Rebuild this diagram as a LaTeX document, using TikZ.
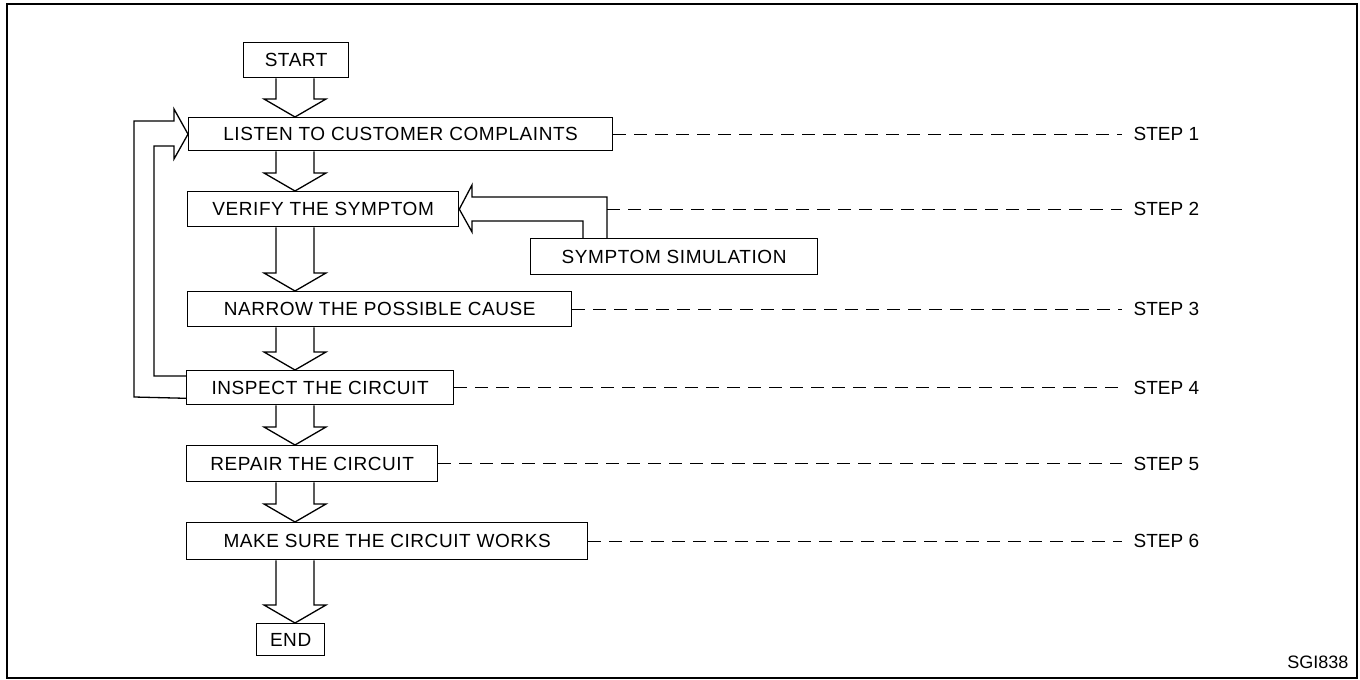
\documentclass[tikz,border=0pt]{standalone}
\usepackage{fontspec}
\setmainfont{Liberation Sans}
\newfontfamily\boxfont{Liberation Sans}[LetterSpace=3]
\usetikzlibrary{calc}
\newcommand{\blockarrow}[2]{%
  \draw let \p1=(col |- #1.south), \p2=(col |- #2.north) in
    (\x1-19pt,\y1) -- (\x1-19pt,\y2+18pt) -- (\x1-31pt,\y2+18pt) -- (\x2,\y2)
    -- (\x1+31pt,\y2+18pt) -- (\x1+19pt,\y2+18pt) -- (\x1+19pt,\y1);}
\begin{document}
\begin{tikzpicture}[x=1pt,y=-1pt,line width=1.3pt,line join=miter,
  box/.style={draw,inner sep=0pt,anchor=north west,font=\boxfont\fontsize{19}{22}\selectfont},
  lbl/.style={inner sep=0pt,anchor=west,font=\fontsize{19}{22}\selectfont},
  leader/.style={dash pattern=on 13pt off 8pt,line width=1.1pt,shorten >=11pt}]
\useasboundingbox (0,0) rectangle (1360,680);
\draw (7,4) rectangle (1357,678);
\coordinate (col) at (295,0);
\coordinate (lblx) at (1133,0);
% boxes
\node[box,minimum width=105pt,minimum height=35pt] (start) at (243,42) {START};
\node[box,minimum width=424pt,minimum height=33pt] (listen) at (188,117) {LISTEN TO CUSTOMER COMPLAINTS};
\node[box,minimum width=271pt,minimum height=35pt] (verify) at (187,191) {VERIFY THE SYMPTOM};
\node[box,minimum width=287pt,minimum height=36pt] (sim) at (530,238) {SYMPTOM SIMULATION};
\node[box,minimum width=384pt,minimum height=35pt] (narrow) at (187,291) {NARROW THE POSSIBLE CAUSE};
\node[box,minimum width=267pt,minimum height=34pt] (inspect) at (186,370) {INSPECT THE CIRCUIT};
\node[box,minimum width=251pt,minimum height=36pt] (repair) at (186,445) {REPAIR THE CIRCUIT};
\node[box,minimum width=401pt,minimum height=37pt] (make) at (186,522) {MAKE SURE THE CIRCUIT WORKS};
\node[box,minimum width=68pt,minimum height=32pt] (end) at (256,623) {END};
% block arrows
\blockarrow{start}{listen}
\blockarrow{listen}{verify}
\blockarrow{verify}{narrow}
\blockarrow{narrow}{inspect}
\blockarrow{inspect}{repair}
\blockarrow{repair}{make}
\blockarrow{make}{end}
% feedback arrow from INSPECT to LISTEN
\draw ($(inspect.south west)+(0,-7)$) -- (134,397) -- (134,121) -- (174,121) -- (174,109)
  -- (listen.west) -- (174,159) -- (174,146) -- (154,146) -- (154,376) -- ($(inspect.north west)+(0,6)$);
% symptom simulation arrow into VERIFY
\coordinate (simR) at ($(sim.north west)+(77,0)$);
\draw (simR) -- (607,197) -- (472,197) -- (472,185) -- (verify.east) -- (472,232)
  -- (472,221) -- (583,221) -- ($(sim.north west)+(53,0)$);
\coordinate (simMid) at (607,208);
% step labels
\node[lbl] (s1) at (lblx |- listen.east) {STEP 1};
\node[lbl] (s2) at (lblx |- verify.east) {STEP 2};
\node[lbl] (s3) at (lblx |- narrow.east) {STEP 3};
\node[lbl] (s4) at (lblx |- inspect.east) {STEP 4};
\node[lbl] (s5) at (lblx |- repair.east) {STEP 5};
\node[lbl] (s6) at (lblx |- make.east) {STEP 6};
\draw[leader] (listen.east) -- (s1.west);
\draw[leader] (simMid |- verify.east) -- (s2.west);
\draw[leader] (narrow.east) -- (s3.west);
\draw[leader] (inspect.east) -- (s4.west);
\draw[leader] (repair.east) -- (s5.west);
\draw[leader] (make.east) -- (s6.west);
\node[inner sep=0pt,anchor=base east,font=\fontsize{18}{20}\selectfont] (code) at (1349,668) {SGI838};
\end{tikzpicture}
\end{document}
